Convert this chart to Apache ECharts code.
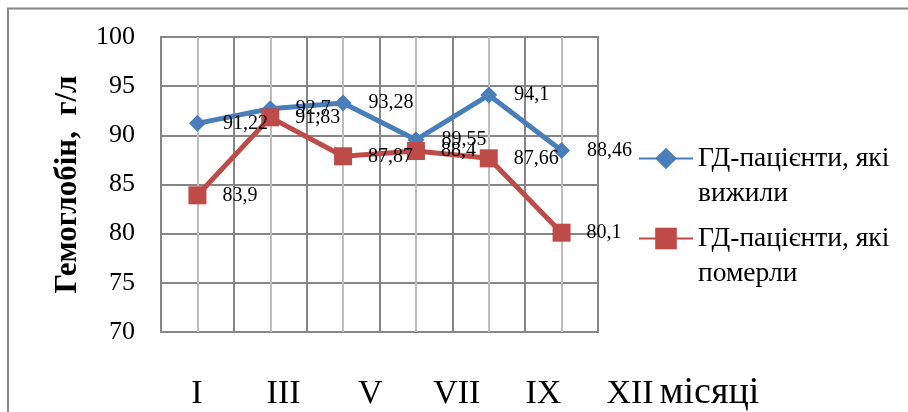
<!DOCTYPE html>
<html><head><meta charset="utf-8">
<script src="https://cdn.jsdelivr.net/npm/echarts@6/dist/echarts.min.js"></script>
<style>html,body{margin:0;padding:0;background:#fff}#c{width:908px;height:412px}</style>
</head><body><div id="c"></div>
<script>
const months = ['I', 'III', 'V', 'VII', 'IX', 'XII'];
const survived = [91.22, 92.7, 93.28, 89.55, 94.1, 88.46];
const died = [83.9, 91.83, 87.87, 88.4, 87.66, 80.1];
const seriesNames = ['ГД-пацієнти, які вижили', 'ГД-пацієнти, які померли'];
const yTitle = 'Гемоглобін,  г/л';
const xTitle = 'місяці';

const FONT = '"Liberation Serif", "DejaVu Serif", serif';
const chart = echarts.init(document.getElementById('c'), null, {renderer: 'canvas'});
const lbl = {
  show: true, position: 'right', color: '#000', fontFamily: FONT, fontSize: 20,
  formatter: p => String(p.value).replace('.', ',')
};
const legendText = {fontFamily: FONT, fontSize: 27.5, color: '#000', lineHeight: 35};
const legendFmt = n => '\n' + n.replace(', які ', ', які\n');
chart.setOption({
  animation: false,
  backgroundColor: '#fff',
  graphic: [{
    type: 'rect', silent: true,
    shape: {x: 8, y: 8.5, width: 1000, height: 1000},
    style: {fill: 'none', stroke: '#878787', lineWidth: 2}
  }],
  grid: [
    {left: 161, right: 310, top: 37, height: 295, show: true, borderColor: '#868686', borderWidth: 2, containLabel: false},
    {left: 197, right: 278, top: 37, height: 295, show: false}
  ],
  legend: [
    {data: [seriesNames[0]], orient: 'vertical', left: 633, top: 101, padding: 5,
     itemWidth: 54, itemHeight: 27, textStyle: legendText, formatter: legendFmt},
    {data: [seriesNames[1]], orient: 'vertical', left: 633, top: 181, padding: 5,
     itemWidth: 54, itemHeight: 27, textStyle: legendText, formatter: legendFmt}
  ],
  xAxis: [
    {type: 'category', gridIndex: 0, data: months, boundaryGap: true,
     axisLine: {show: false}, axisLabel: {show: false},
     axisTick: {show: true, alignWithLabel: true, inside: true, length: 295, lineStyle: {color: '#bdbdbd', width: 2}},
     splitLine: {show: true, lineStyle: {color: '#868686', width: 2}}},
    {type: 'category', gridIndex: 1, data: months, boundaryGap: false,
     axisLine: {show: false}, axisTick: {show: false}, splitLine: {show: false},
     axisLabel: {show: true, margin: 46, fontFamily: FONT, fontSize: 34, color: '#000', interval: 0},
     name: xTitle, nameLocation: 'end', nameGap: 25,
     nameTextStyle: {fontFamily: FONT, fontSize: 38, color: '#000', verticalAlign: 'top', lineHeight: 38, padding: [43, 0, 0, 0]}}
  ],
  yAxis: [
    {type: 'value', gridIndex: 0, min: 70, max: 100, interval: 5,
     axisLine: {show: false}, axisTick: {show: false},
     axisLabel: {margin: 26, fontFamily: FONT, fontSize: 26, color: '#000'},
     splitLine: {show: true, lineStyle: {color: '#868686', width: 2}},
     name: yTitle, nameLocation: 'middle', nameGap: 78,
     nameTextStyle: {fontFamily: FONT, fontSize: 31, fontWeight: 'bold', color: '#000'}},
    {type: 'value', gridIndex: 1, show: false}
  ],
  series: [
    {name: seriesNames[0], type: 'line', data: survived, xAxisIndex: 0, yAxisIndex: 0,
     symbol: 'diamond', symbolSize: [17, 17], lineStyle: {width: 5, color: '#4A7EBB'},
     itemStyle: {color: '#4A7EBB'}, label: Object.assign({}, lbl, {distance: 17})},
    {name: seriesNames[1], type: 'line', data: died, xAxisIndex: 0, yAxisIndex: 0,
     symbol: 'rect', symbolSize: 18, lineStyle: {width: 5, color: '#BE4B48'},
     itemStyle: {color: '#BE4B48'}, label: Object.assign({}, lbl, {distance: 16})}
  ]
});
</script></body></html>
